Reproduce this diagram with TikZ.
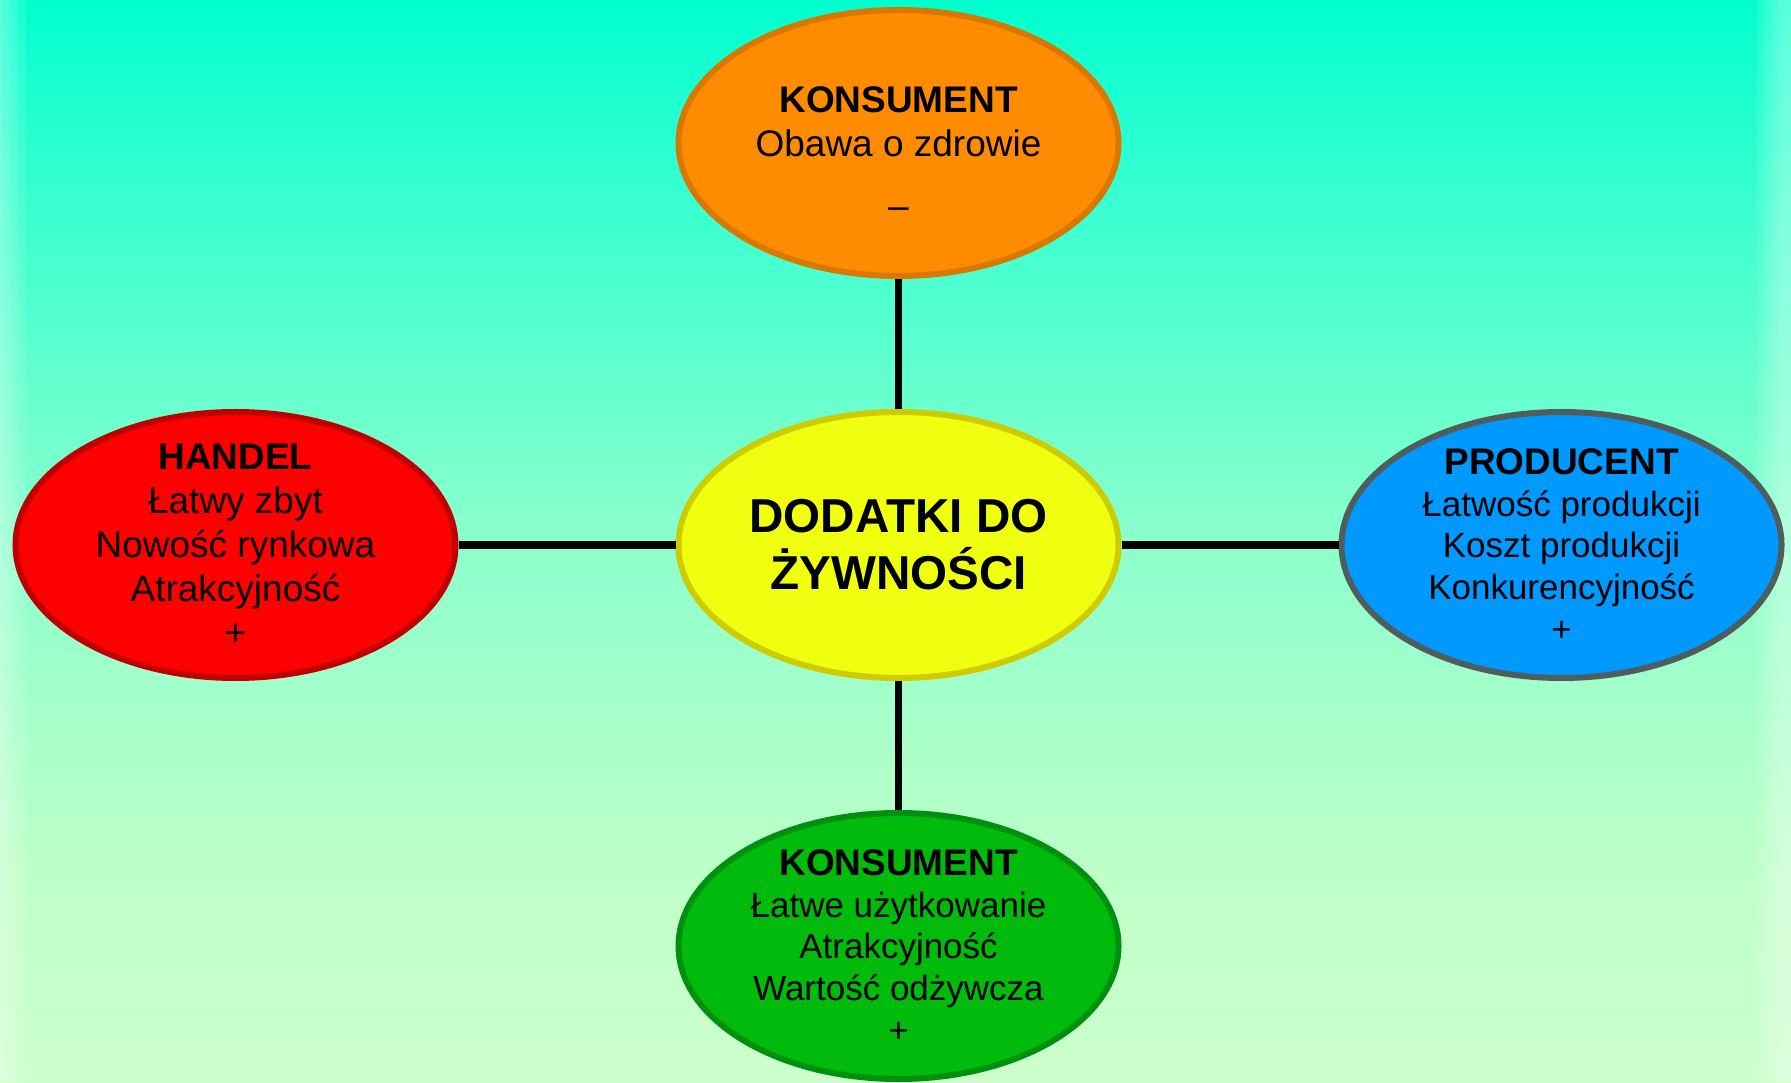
\documentclass[tikz,border=0pt]{standalone}
\usepackage{fontspec}
\setmainfont{Liberation Sans}
\usepackage{xcolor}
\definecolor{orangefill}{HTML}{FF8C00}
\definecolor{orangeline}{HTML}{D97800}
\definecolor{yellowfill}{HTML}{F0FF0F}
\definecolor{yellowline}{HTML}{CCCC00}
\definecolor{redfill}{HTML}{FF0000}
\definecolor{redline}{HTML}{C00000}
\definecolor{bluefill}{HTML}{0099FF}
\definecolor{blueline}{HTML}{4F5D5D}
\definecolor{greenfill}{HTML}{00BB0C}
\definecolor{greenline}{HTML}{009010}
\definecolor{bglow}{RGB}{204,255,204}
\definecolor{bgtwo}{RGB}{191,255,200}
\definecolor{bgmid}{RGB}{140,255,204}
\definecolor{bgfour}{RGB}{56,255,208}
\definecolor{bgfive}{RGB}{16,255,208}
\definecolor{bgtop}{RGB}{0,255,206}
\usepackage{tikz}
\usetikzlibrary{shapes, positioning}
\pgfdeclareverticalshading{bgshade}{100bp}{color(0bp)=(bglow); color(25bp)=(bglow); color(34.3bp)=(bgtwo); color(49.8bp)=(bgmid); color(65.8bp)=(bgfour); color(72.8bp)=(bgfive); color(75bp)=(bgtop); color(100bp)=(bgtop)}
\newcommand{\head}[1]{{\fontsize{18.5}{20.9}\selectfont\bfseries #1}}

\begin{document}
\begin{tikzpicture}[node distance=65pt, auto]
        % Define block styles
        \tikzstyle{blob} = [ellipse, draw, line width=3pt, minimum width=220pt, minimum height=133pt, inner sep=-12pt, align=center, font=\fontsize{18.5}{22}\selectfont]
        \tikzstyle{tight} = [font=\fontsize{17.5}{20.9}\selectfont]
        \tikzstyle{line} = [draw, line width=3.6pt, black]

        % Background
        \useasboundingbox (0,0) rectangle (895.5pt,541pt);
        \fill [shading=bgshade] (0,0) rectangle (895.5pt,541pt);
        \foreach \w in {13pt, 9pt, 5.5pt, 1.5pt}
            \fill [white, opacity=0.1] (0,0) rectangle (\w,541pt);
        \foreach \w in {17pt, 13.5pt, 9.5pt, 6pt}
            \fill [white, opacity=0.1] (895.5pt-\w,0) rectangle (895.5pt,541pt);

        % Nodes
        \node [blob, fill=yellowfill, draw=yellowline, font=\fontsize{23.8}{28.5}\selectfont\bfseries] at (449.25pt,268.5pt) (dodatki) {DODATKI DO\\ŻYWNOŚCI};
        \node [blob, fill=orangefill, draw=orangeline, above=of dodatki] (konsument_top) {\head{\rule{0pt}{23pt}KONSUMENT}\\Obawa o zdrowie\\[9pt]–};
        \node [blob, fill=redfill, draw=redline, left=108.5pt of dodatki] (handel) {\head{HANDEL}\\Łatwy zbyt\\Nowość rynkowa\\Atrakcyjność\\+};
        \node [blob, tight, fill=bluefill, draw=blueline, right=108.5pt of dodatki] (producent) {\head{PRODUCENT}\\Łatwość produkcji\\Koszt produkcji\\Konkurencyjność\\+};
        \node [blob, tight, fill=greenfill, draw=greenline, below=64.5pt of dodatki] (konsument_bottom) {\head{KONSUMENT}\\Łatwe użytkowanie\\Atrakcyjność\\Wartość odżywcza\\+};

        % Paths
        \path [line] (konsument_top) -- (dodatki);
        \path [line] (handel) -- (dodatki);
        \path [line] (producent) -- (dodatki);
        \path [line] (konsument_bottom) -- (dodatki);

\end{tikzpicture}
\end{document}
